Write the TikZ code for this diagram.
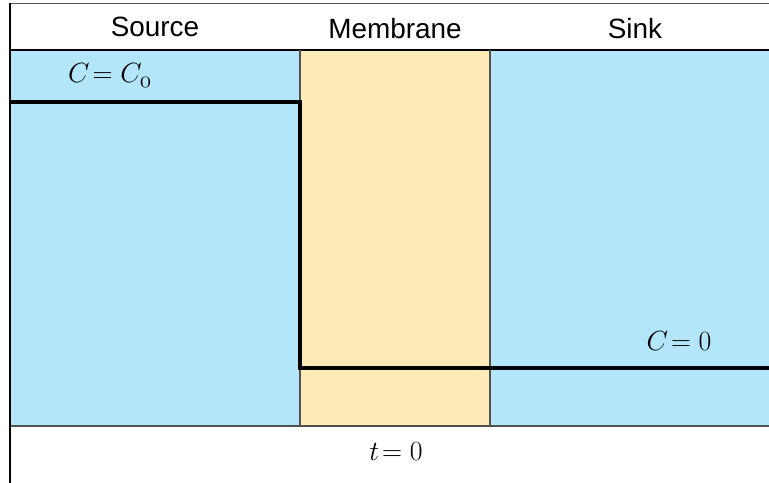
\documentclass[tikz,border=0pt]{standalone}
\usepackage{fontspec}
\setmainfont{Liberation Sans}
\definecolor{poolblue}{RGB}{179,229,251}
\definecolor{membyellow}{RGB}{255,235,181}
\definecolor{edgegray}{RGB}{80,80,80}
\newcommand{\biggermath}[1]{\scalebox{1.12}{$#1$}}
\tikzset{
  header/.style={anchor=base, inner sep=0pt, font=\fontsize{28}{32}\selectfont},
  mathlabel/.style={anchor=base, inner sep=0pt, font=\fontsize{24.88}{30}\selectfont},
  profile/.style={line width=4bp, line join=miter},
  thinedge/.style={line width=1.2bp, edgegray},
}
\begin{document}
\begin{tikzpicture}[x=1bp,y=-1bp]
\useasboundingbox (0,0) rectangle (769,483);
% regions
\fill[poolblue] (10,50) rectangle (300,426);
\fill[membyellow] (300,50) rectangle (490,426);
\fill[poolblue] (490,50) rectangle (769,426);
% frame lines
\draw[thinedge] (10,3.5) -- (769,3.5);
\draw[line width=1.2bp, black] (10,50) -- (769,50);
\draw[thinedge] (300,50) -- (300,426);
\draw[thinedge] (490,50) -- (490,426);
\draw[line width=1.4bp, edgegray] (10,426) -- (769,426);
\draw[line width=1.4bp, black] (10,3) -- (10,483);
% concentration profile
\coordinate (p0) at (10,102);
\coordinate (p1) at (300,102);
\coordinate (p2) at (300,368);
\coordinate (p3) at (769,368);
\draw[profile] (p0) -- (p1) -- (p2) -- (p3);
% labels
\node[header] (source) at (155,36.5) {Source};
\node[header] (membrane) at (395,39) {Membrane};
\node[header] (sink) at (635,39) {Sink};
\node[mathlabel] (czero) at (110,83) {\biggermath{C\!=C_{\mathnormal{0}}}};
\node[mathlabel] (cnull) at (679,350) {\biggermath{C\!=0}};
\node[mathlabel] (tnull) at (396,460) {\biggermath{t\!=0}};
\end{tikzpicture}
\end{document}
